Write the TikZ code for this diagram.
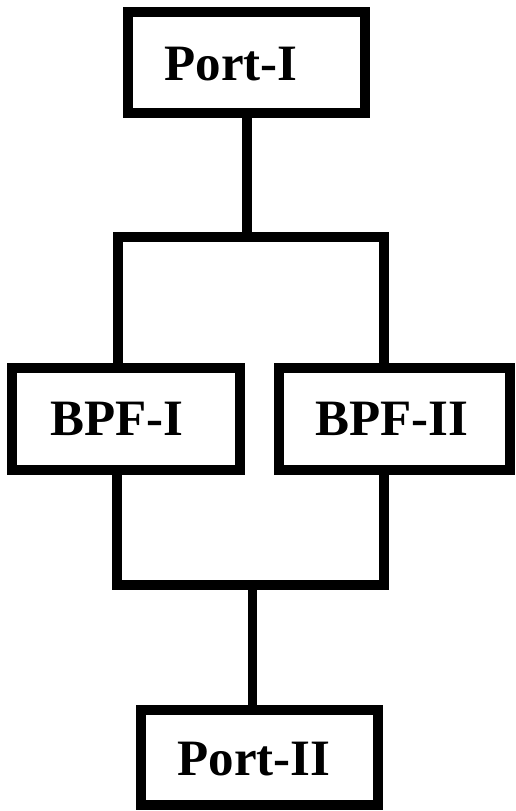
\documentclass[tikz,border=0pt]{standalone}
\usepackage{fontspec}
\setmainfont{Liberation Serif}
\begin{document}
\begin{tikzpicture}[x=1pt,y=-1pt,
  blk/.style={draw=black,line width=10pt,rectangle,inner sep=0pt,fill=white},
  lbl/.style={anchor=base,inner sep=0pt,font=\fontsize{51}{51}\selectfont\bfseries},
  wire/.style={draw=black,line width=9.5pt,line join=miter}]
\useasboundingbox (0,0) rectangle (516,811);
% boxes
\node[blk,minimum width=237pt,minimum height=101pt] (p1) at (246.5,62.5) {};
\node[blk,minimum width=228pt,minimum height=102pt] (b1) at (126,419) {};
\node[blk,minimum width=231pt,minimum height=102pt] (b2) at (394.5,419) {};
\node[blk,minimum width=237pt,minimum height=95pt] (p2) at (259.5,757.5) {};
% labels
\node[lbl] (t1) at (231,80) {Port-I};
\node[lbl] (t2) at (117,435) {BPF-I};
\node[lbl] (t3) at (392,435) {BPF-II};
\node[lbl] (t4) at (254,775) {Port-II};
% junction points
\coordinate (jt) at (247,237);
\coordinate (tl) at (118,237);
\coordinate (tr) at (384,237);
\coordinate (bl) at (117,585);
\coordinate (br) at (384,585);
\coordinate (jb) at (252.5,585);
% connectors
\draw[wire] (p1.south -| jt) -- (jt);
\draw[wire] (b1.north -| tl) -- (tl) -- (tr) -- (b2.north -| tr);
\draw[wire] (b1.south -| bl) -- (bl) -- (br) -- (b2.south -| br);
\draw[wire] (jb) -- (jb |- p2.north);
\end{tikzpicture}
\end{document}
